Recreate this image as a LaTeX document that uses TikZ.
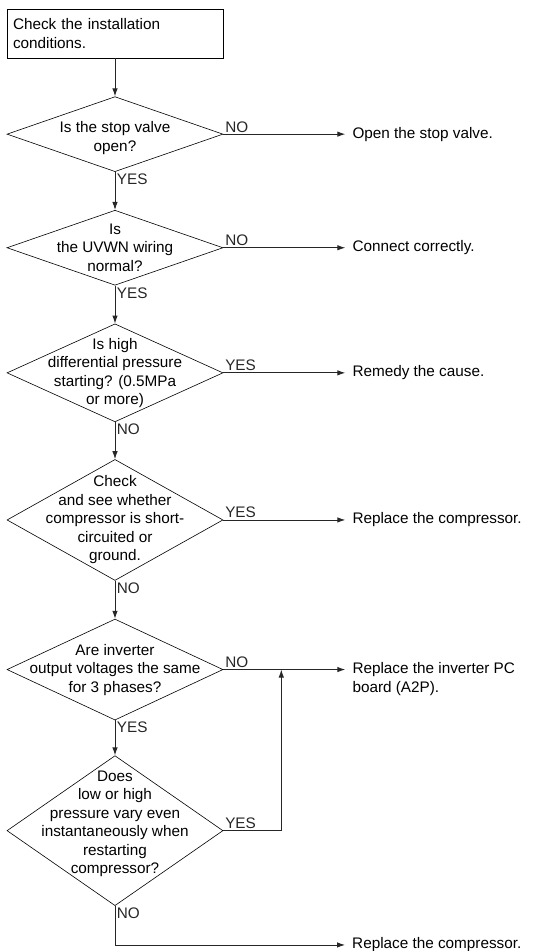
\documentclass[tikz,border=0pt]{standalone}
\usepackage{fontspec}
\setmainfont{Liberation Sans}
\usetikzlibrary{shapes.geometric,positioning,arrows.meta}
\tikzset{
startbox/.style={draw,rectangle,text width=204pt,align=left,inner sep=6pt,minimum height=49pt,line width=0.7pt},
decision/.style={draw,diamond,minimum width=216pt,inner sep=0pt,line width=0.6pt},
qtext/.style={align=center,inner sep=0pt},
result/.style={align=left,anchor=west,inner xsep=7pt,inner ysep=0pt},
answer/.style={inner sep=1.5pt},
flow/.style={-{Latex[length=8pt,width=5.5pt]},line width=0.9pt,black!85},
}
\begin{document}
\begin{tikzpicture}[x=1pt,y=1pt,every node/.style={font=\fontsize{15.3}{18.5}\selectfont}]
\useasboundingbox (0,0) rectangle (548,-951);
% start
\node[startbox] (chk) at (115,-33.5) {Check the installation\\conditions.};
% questions
\node[decision,minimum height=75pt,below=38pt of chk] (q1) {};
\node[qtext,yshift=-4pt] (q1t) at (q1) {Is the stop valve\\open?};
\node[decision,minimum height=75pt,below=38pt of q1] (q2) {};
\node[qtext] (q2t) at (q2) {Is\\the UVWN wiring\\normal?};
\node[decision,minimum height=98pt,below=38pt of q2] (q3) {};
\node[qtext] (q3t) at (q3) {Is high\\differential pressure\\starting? (0.5MPa\\or more)};
\node[decision,minimum height=121pt,below=37pt of q3] (q4) {};
\node[qtext] (q4t) at (q4) {Check\\and see whether\\compressor is short-\\circuited or\\ground.};
\node[decision,minimum height=101pt,below=38pt of q4] (q5) {};
\node[qtext] (q5t) at (q5) {Are inverter\\output voltages the same\\for 3 phases?};
\node[decision,minimum height=150pt,below=35pt of q5] (q6) {};
\node[qtext,yshift=7pt] (q6t) at (q6) {Does\\low or high\\pressure vary even\\instantaneously when\\restarting\\compressor?};
% results
\node[result,right=122pt of q1] (r1) {Open the stop valve.};
\node[result,right=122pt of q2] (r2) {Connect correctly.};
\node[result,right=122pt of q3] (r3) {Remedy the cause.};
\node[result,right=122pt of q4] (r4) {Replace the compressor.};
\node[result,right=122pt of q5,yshift=-9.25pt] (r5) {Replace the inverter PC\\board (A2P).};
\coordinate[below=39pt of q6.south] (c6);
\node[result,right=230pt of c6] (r6) {Replace the compressor.};
\coordinate (j5) at ([xshift=58pt]q5.east);
% main line
\draw[flow] (chk.south) -- (q1.north);
\draw[flow] (q1.south) -- node[answer,anchor=north west,pos=0] (y1) {YES} (q2.north);
\draw[flow] (q2.south) -- node[answer,anchor=north west,pos=0] (y2) {YES} (q3.north);
\draw[flow] (q3.south) -- node[answer,anchor=north west,pos=0] (n3) {NO} (q4.north);
\draw[flow] (q4.south) -- node[answer,anchor=north west,pos=0] (n4) {NO} (q5.north);
\draw[flow] (q5.south) -- node[answer,anchor=north west,pos=0] (y5) {YES} (q6.north);
% branches
\draw[flow] (q1.east) -- node[answer,anchor=south west,pos=0] (n1) {NO} (r1.west);
\draw[flow] (q2.east) -- node[answer,anchor=south west,pos=0] (n2) {NO} (r2.west);
\draw[flow] (q3.east) -- node[answer,anchor=south west,pos=0] (y3) {YES} (r3.west);
\draw[flow] (q4.east) -- node[answer,anchor=south west,pos=0] (y4) {YES} (r4.west);
\draw[flow] (q5.east) -- node[answer,anchor=south west,pos=0] (n5) {NO} (q5.east -| r5.west);
\draw[flow] (q6.east) -- node[answer,anchor=south west,pos=0] (y6) {YES} (q6.east -| j5) -- (j5);
\draw[flow] (q6.south) -- node[answer,anchor=north west,pos=0] (n6) {NO} (c6) -- (r6.west);
\end{tikzpicture}
\end{document}
